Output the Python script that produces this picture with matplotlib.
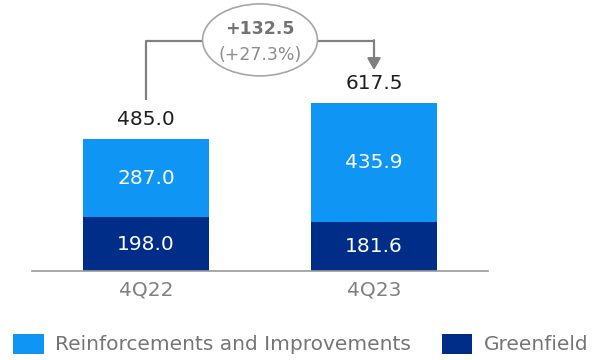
import numpy as np
import matplotlib
matplotlib.use('Agg')
import matplotlib.pyplot as plt
from matplotlib.patches import Ellipse

quarters = ['4Q22', '4Q23']
greenfield = [198.0, 181.6]
reinforcements = [287.0, 435.9]
totals = [485.0, 617.5]
series_names = ['Reinforcements and Improvements', 'Greenfield']

light = '#0f96f5'
dark = '#002d87'
gray = '#808080'

plt.rcParams['font.family'] = 'DejaVu Sans'

fig = plt.figure(figsize=(5.94, 3.6), dpi=100)
ax = fig.add_axes([32/594, 89/360, 456/594, 271/360])

x = np.arange(len(quarters))
w = 0.55
b_green = ax.bar(x, greenfield, width=w, color=dark)
b_reinf = ax.bar(x, reinforcements, width=w, bottom=greenfield, color=light)

for i in range(len(x)):
    ax.text(x[i], greenfield[i]/2, '%.1f' % greenfield[i], ha='center', va='center',
            color='white', fontsize=14.5)
    ax.text(x[i], greenfield[i] + reinforcements[i]/2, '%.1f' % reinforcements[i],
            ha='center', va='center', color='white', fontsize=14.5)
    ax.annotate('%.1f' % totals[i], (x[i], totals[i]), xytext=(0, 14),
                textcoords='offset points', ha='center', va='center',
                color='#1f1f1f', fontsize=14.5)

# bracket with the change between quarters
diff = totals[1] - totals[0]
pct = diff / totals[0] * 100
y_top = 847
ax.plot([x[0], x[0], x[1]], [630, y_top, y_top], color=gray, lw=1.6, solid_capstyle='butt')
ax.annotate('', xy=(x[1], 740), xytext=(x[1], y_top + 3),
            arrowprops=dict(arrowstyle='-|>,head_length=0.7,head_width=0.4',
                            color=gray, lw=1.6, shrinkA=0, shrinkB=0))
ax.add_patch(Ellipse((0.5, 851), 0.504, 265, facecolor='white',
                     edgecolor='#a6a6a6', lw=1.2, zorder=3))
ax.text(0.5, 893, '+%.1f' % diff, ha='center', va='center', fontsize=12.5,
        fontweight='bold', color='#737373', zorder=4)
ax.text(0.5, 795, '(+%.1f%%)' % pct, ha='center', va='center', fontsize=12.5,
        color='#8c8c8c', zorder=4)

ax.set_xlim(-0.5, 1.5)
ax.set_ylim(0, 998)
ax.set_xticks(x)
ax.set_xticklabels(quarters, fontsize=14.5, color=gray)
ax.tick_params(axis='x', length=0, pad=7)
ax.set_yticks([])
for s in ['top', 'left', 'right']:
    ax.spines[s].set_visible(False)
ax.spines['bottom'].set_color('#9a9a9a')
ax.spines['bottom'].set_linewidth(1.2)

fig.legend([b_reinf, b_green], series_names, loc='center left',
           bbox_to_anchor=(13/594, 1 - 344/360), ncol=2, frameon=False,
           fontsize=14.5, labelcolor='#757575', handlelength=1.52,
           handleheight=1.18, handletextpad=0.55, columnspacing=1.55,
           borderpad=0, borderaxespad=0)

fig.savefig('out.png', dpi=100)
